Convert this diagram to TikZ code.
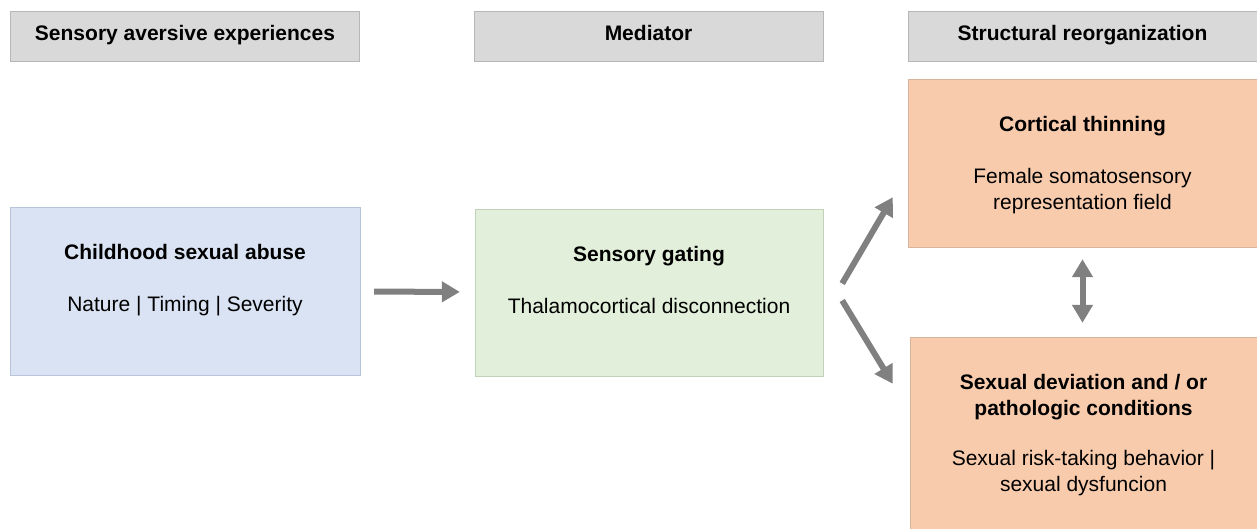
\documentclass[tikz,border=0pt]{standalone}
\usepackage{fontspec}
\setmainfont{Liberation Sans}
\usetikzlibrary{positioning,arrows.meta}

\definecolor{headfill}{HTML}{D9D9D9}
\definecolor{headline}{HTML}{B7B7B7}
\definecolor{bluefill}{HTML}{DAE3F3}
\definecolor{blueline}{HTML}{B8C4DA}
\definecolor{greenfill}{HTML}{E2EFDA}
\definecolor{greenline}{HTML}{C2D2B8}
\definecolor{orangefill}{HTML}{F8CBAD}
\definecolor{orangeline}{HTML}{D8B49C}
\definecolor{arrowgray}{HTML}{808080}

\tikzset{
  head/.style={draw=headline, fill=headfill, minimum width=349pt, minimum height=50pt,
    inner sep=0pt, text height=15pt, text depth=6pt, font=\bfseries\fontsize{21}{26}\selectfont},
  box/.style={minimum width=349pt, minimum height=168pt, inner sep=0pt},
  boxtext/.style={align=center, inner sep=0pt, font=\fontsize{21}{26}\selectfont},
  fat/.style={draw=arrowgray, line width=6pt, -{Triangle[length=18pt,width=20pt]}},
  fatboth/.style={draw=arrowgray, line width=6pt,
    {Triangle[length=18pt,width=20pt]}-{Triangle[length=18pt,width=20pt]}}
}

\begin{document}
\begin{tikzpicture}[x=1pt,y=-1pt]
  \useasboundingbox (0,0) rectangle (1257,528);

  \node[head] (hsens) at (185,36) {Sensory aversive experiences};
  \node[head] (hmed)  at (648.5,36) {Mediator};
  \node[head] (hstruct) at (1082.5,36) {Structural reorganization};

  \node[box, draw=blueline, fill=bluefill, minimum width=350pt] (abuse) at (185,291) {};
  \node[box, draw=greenline, fill=greenfill, minimum width=348pt, minimum height=167pt] (gating) at (649,292.5) {};
  \node[box, draw=orangeline, fill=orangefill] (cortex) at (1082.5,163) {};
  \node[box, draw=orangeline, fill=orangefill, minimum width=347pt, minimum height=194pt] (deviation) at (1083.5,434) {};

  \node[boxtext, below=37pt of abuse.north] (abuse-t)
    {\textbf{Childhood sexual abuse}\\[26pt]Nature | Timing | Severity};
  \node[boxtext, below=37pt of gating.north] (gating-t)
    {\textbf{Sensory gating}\\[26pt]Thalamocortical disconnection};
  \node[boxtext, below=37pt of cortex.north] (cortex-t)
    {\textbf{Cortical thinning}\\[26pt]Female somatosensory\\representation field};
  \node[boxtext, below=37pt of deviation.north] (deviation-t)
    {\textbf{Sexual deviation and / or}\\\textbf{pathologic conditions}\\[24pt]Sexual risk-taking behavior |\\sexual dysfuncion};

  \draw[fat, shorten <=14pt, shorten >=15pt] (abuse) -- (gating);
  \draw[fat] ([xshift=19pt,yshift=9pt]gating.east) -- ([xshift=-15pt,yshift=50pt]cortex.south west);
  \draw[fat] ([xshift=19pt,yshift=-8pt]gating.east) -- ([xshift=-17pt,yshift=-47pt]deviation.north west);
  \draw[fatboth, shorten <=12pt, shorten >=14pt] (cortex.south) -- (deviation.north -| cortex.south);
\end{tikzpicture}
\end{document}
